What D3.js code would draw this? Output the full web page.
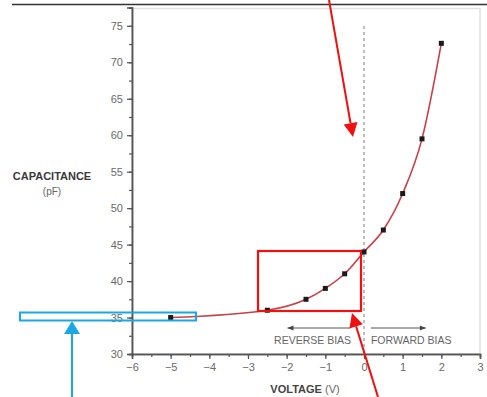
<!DOCTYPE html>
<html>
<head>
<meta charset="utf-8">
<script src="https://cdn.jsdelivr.net/npm/d3@7"></script>
<style>
  html, body { margin: 0; padding: 0; background: #fff; }
  svg { display: block; }
  text { font-family: "Liberation Sans", Arial, sans-serif; }
</style>
</head>
<body>
<svg id="chart" width="487" height="397"></svg>
<script>
// Varactor capacitance vs. bias voltage
const voltage = [-5, -2.5, -1.5, -1, -0.5, 0, 0.5, 1, 1.5, 2];
const capacitance = [35, 36, 37.5, 39, 41, 44, 47, 52, 59.5, 72.6];
const xTickValues = [-6, -5, -4, -3, -2, -1, 0, 1, 2, 3];
const yTickValues = [30, 35, 40, 45, 50, 55, 60, 65, 70, 75];

const svg = d3.select("#chart");
const x = d3.scaleLinear().domain([-6, 3]).range([132, 480]);
const y = d3.scaleLinear().domain([30, 77.5]).range([354, 7.6]);

const fmt = d => d < 0 ? "\u2212" + Math.abs(d) : String(d);

// rule across the top
svg.append("line").attr("x1", 12).attr("x2", 487).attr("y1", 4.5).attr("y2", 4.5)
  .attr("stroke", "#333").attr("stroke-width", 1.5);

// light plot frame
svg.append("rect").attr("x", 132).attr("y", 8.5).attr("width", 348).attr("height", 345.5)
  .attr("fill", "none").attr("stroke", "#e2e2e2").attr("stroke-width", 1.5);

// minor ticks
const gx = svg.append("g").attr("transform", "translate(0,354)");
gx.call(d3.axisBottom(x).tickValues(d3.range(-6, 3.01, 0.5)).tickSize(3).tickFormat(""));
const gxMajor = svg.append("g").attr("transform", "translate(0,354)");
gxMajor.call(d3.axisBottom(x).tickValues(xTickValues).tickSize(5).tickFormat(fmt).tickPadding(4));

const gy = svg.append("g").attr("transform", "translate(132,0)");
gy.call(d3.axisLeft(y).tickValues(d3.range(30, 77.6, 2.5)).tickSize(3).tickFormat(""));
const gyMajor = svg.append("g").attr("transform", "translate(132,0)");
gyMajor.call(d3.axisLeft(y).tickValues(yTickValues).tickSize(5).tickFormat(d => d).tickPadding(4));

svg.selectAll(".domain").attr("stroke", "#555").attr("stroke-width", 1.5);
svg.selectAll(".tick line").attr("stroke", "#555").attr("stroke-width", 1.2);
svg.selectAll(".tick text").attr("fill", "#6a6a6a").style("font-size", "11px");

// zero-bias dashed divider
svg.append("line").attr("x1", x(0)).attr("x2", x(0)).attr("y1", 26).attr("y2", 354)
  .attr("stroke", "#9a9a9a").attr("stroke-width", 1.3).attr("stroke-dasharray", "3,3");

// curve
const pts = voltage.map((v, i) => [v, capacitance[i]]);
svg.append("path").datum(pts)
  .attr("fill", "none").attr("stroke", "#c8404a").attr("stroke-width", 1.6)
  .attr("d", d3.line().x(d => x(d[0])).y(d => y(d[1])).curve(d3.curveMonotoneX));

svg.selectAll("rect.pt").data(pts).enter().append("rect").attr("class", "pt")
  .attr("x", d => x(d[0]) - 2.5).attr("y", d => y(d[1]) - 2.5)
  .attr("width", 5).attr("height", 5).attr("fill", "#1a1a1a");

// bias direction arrows
function arrow(x1, x2, yy) {
  svg.append("line").attr("x1", x1).attr("x2", x2).attr("y1", yy).attr("y2", yy)
    .attr("stroke", "#555").attr("stroke-width", 1.2);
  const s = Math.sign(x2 - x1);
  svg.append("path")
    .attr("d", `M${x2},${yy} L${x2 - s * 6},${yy - 2.5} L${x2 - s * 6},${yy + 2.5} Z`)
    .attr("fill", "#444");
}
arrow(x(-0.36), x(-1.98), 328);
arrow(x(0.18), x(1.6), 328);

svg.append("text").attr("x", x(-1.33)).attr("y", 344).attr("text-anchor", "middle")
  .attr("fill", "#666").style("font-size", "10.5px").text("REVERSE BIAS");
svg.append("text").attr("x", x(1.22)).attr("y", 344).attr("text-anchor", "middle")
  .attr("fill", "#666").style("font-size", "10.5px").text("FORWARD BIAS");

// axis titles
const xt = svg.append("text").attr("x", 305).attr("y", 393).attr("text-anchor", "middle")
  .attr("fill", "#444").style("font-size", "11px");
xt.append("tspan").attr("font-weight", "bold").text("VOLTAGE");
xt.append("tspan").attr("fill", "#666").text(" (V)");

svg.append("text").attr("x", 52).attr("y", 180).attr("text-anchor", "middle")
  .attr("fill", "#3a3a3a").attr("font-weight", "bold").style("font-size", "11px").text("CAPACITANCE");
svg.append("text").attr("x", 52).attr("y", 195).attr("text-anchor", "middle")
  .attr("fill", "#666").style("font-size", "10px").text("(pF)");

// callouts
const red = "#f01010", blue = "#1aa7e6";
svg.append("rect").attr("x", 258).attr("y", 251).attr("width", 103).attr("height", 60)
  .attr("fill", "none").attr("stroke", red).attr("stroke-width", 2.2);
svg.append("rect").attr("x", 20).attr("y", 312.5).attr("width", 176).attr("height", 8)
  .attr("fill", "none").attr("stroke", blue).attr("stroke-width", 2);

function callout(x1, y1, x2, y2, color, len, half) {
  const a = Math.atan2(y2 - y1, x2 - x1);
  const bx = x2 - len * Math.cos(a), by = y2 - len * Math.sin(a);
  svg.append("line").attr("x1", x1).attr("y1", y1).attr("x2", bx).attr("y2", by)
    .attr("stroke", color).attr("stroke-width", 2);
  const px = -Math.sin(a) * half, py = Math.cos(a) * half;
  svg.append("path")
    .attr("d", `M${x2},${y2} L${bx + px},${by + py} L${bx - px},${by - py} Z`)
    .attr("fill", color);
}
callout(329, 0, 353, 137, red, 14, 7);
callout(378, 397, 352, 313, red, 14, 7);
callout(72, 397, 72, 321, blue, 13, 8);
</script>
</body>
</html>
